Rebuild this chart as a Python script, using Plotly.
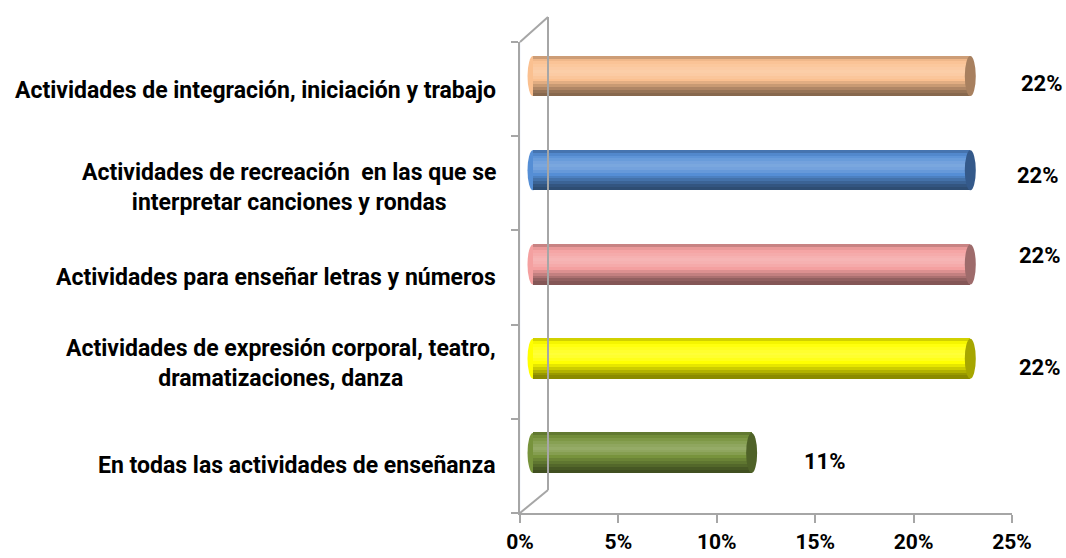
import plotly.graph_objects as go

# ---- data (top to bottom as shown) ----
categories = [
    "Actividades de integración, iniciación y trabajo",
    "Actividades de recreación  en las que se<br>interpretar canciones y rondas",
    "Actividades para enseñar letras y números",
    "Actividades de expresión corporal, teatro,<br>dramatizaciones, danza",
    "En todas las actividades de enseñanza",
]
values = [0.2222, 0.2222, 0.2222, 0.2222, 0.1111]
x_tickvals = [0, 0.05, 0.10, 0.15, 0.20, 0.25]
x_ticktext = ["0%", "5%", "10%", "15%", "20%", "25%"]

# ---- style ----
base_colors = ["#FAC090", "#558ED5", "#F4A0A0", "#FFFF00", "#77933C"]
cap_colors = ["#A8805F", "#34598A", "#9E6B6B", "#A6A600", "#4F6228"]
label_yshift = [6, 8, 22, 4, 4]
label_xshift = [85, 81, 83, 83, 86]
cat_yshift = [-1, -4, 0, 8, 0]
shade_profile = [-0.18, -0.04, 0.05, 0.12, 0.18, 0.22, 0.18, 0.10, 0.0,
                 -0.10, -0.20, -0.30, -0.40, -0.46]
FONT = "Roboto, Arial, sans-serif"
GRAY = "#A6A6A6"

W, H = 1066, 558
ML, MR, MT, MB = 520, 54, 42, 45
pw, ph = W - ML - MR, H - MT - MB
xmax = 0.25
px_per_x = pw / xmax
n = len(categories)
band_px = ph / n
depth_px = 13
off_x = depth_px / px_per_x
off_y = depth_px / band_px
bar_h = 40 / band_px

cat_order = categories[::-1]  # bottom -> top for the axis


def shade(hexc, f):
    hexc = hexc.lstrip("#")
    r, g, b = (int(hexc[i:i + 2], 16) for i in (0, 2, 4))
    if f >= 0:
        r, g, b = (c + (255 - c) * f for c in (r, g, b))
    else:
        r, g, b = (c * (1 + f) for c in (r, g, b))
    return "rgb(%d,%d,%d)" % (round(r), round(g), round(b))


fig = go.Figure()

# invisible trace to keep front axes alive
fig.add_trace(go.Bar(y=categories, x=[0] * n, orientation="h",
                     marker_color="rgba(0,0,0,0)", showlegend=False,
                     hoverinfo="skip", xaxis="x", yaxis="y"))

# cylinder body built from horizontal strips
ns = len(shade_profile)
sh = bar_h / ns
for k, f in enumerate(shade_profile):
    fig.add_trace(go.Bar(
        y=categories, x=values, orientation="h",
        width=sh * 1.15,
        offset=bar_h / 2 - (k + 1) * sh,
        marker=dict(color=[shade(c, f) for c in base_colors], line=dict(width=0)),
        showlegend=False, hoverinfo="skip",
        xaxis="x2", yaxis="y2",
    ))

shapes = []
dx = 5.5 / px_per_x
for j, (cat, v) in enumerate(zip(categories, values)):
    idx = n - 1 - j
    # rounded left end
    shapes.append(dict(type="circle", xref="x2", yref="y2", layer="below",
                       x0=-dx, x1=dx, y0=idx - bar_h / 2, y1=idx + bar_h / 2,
                       fillcolor=shade(base_colors[j], 0.0), line=dict(width=0)))
    # end cap
    shapes.append(dict(type="circle", xref="x2", yref="y2", layer="above",
                       x0=v - dx, x1=v + dx, y0=idx - bar_h / 2, y1=idx + bar_h / 2,
                       fillcolor=cap_colors[j], line=dict(width=0)))

# back wall frame
bx = 28 / pw
shapes += [
    dict(type="line", xref="paper", yref="paper", x0=bx, x1=bx,
         y0=23 / ph, y1=1 + 25 / ph, line=dict(color=GRAY, width=2)),
    dict(type="line", xref="paper", yref="paper", x0=0, x1=bx,
         y0=1, y1=1 + 25 / ph, line=dict(color=GRAY, width=2)),
    dict(type="line", xref="paper", yref="paper", x0=0, x1=bx,
         y0=0, y1=23 / ph, line=dict(color=GRAY, width=2)),
]

annotations = []
for j, cat in enumerate(categories):
    annotations.append(dict(
        xref="paper", yref="y", x=-22 / pw, y=cat, xanchor="right",
        yanchor="middle", align="center", showarrow=False, text=cat,
        yshift=cat_yshift[j],
        font=dict(family=FONT, size=23, color="black", weight="bold")))
for j, (cat, v) in enumerate(zip(categories, values)):
    annotations.append(dict(
        xref="x", yref="y", x=v, y=cat, xanchor="center", yanchor="middle",
        xshift=label_xshift[j], yshift=label_yshift[j], showarrow=False,
        text=f"{v:.0%}",
        font=dict(family=FONT, size=22, color="black", weight="bold")))

fig.update_layout(
    width=W, height=H,
    margin=dict(l=ML, r=MR, t=MT, b=MB, autoexpand=False),
    paper_bgcolor="white", plot_bgcolor="rgba(0,0,0,0)",
    barmode="overlay", bargap=0,
    showlegend=False,
    xaxis=dict(range=[0, xmax], tickvals=x_tickvals, ticktext=x_ticktext,
               showgrid=False, zeroline=False, showline=True,
               linecolor=GRAY, linewidth=2, ticks="outside", ticklen=8,
               tickwidth=2, tickcolor=GRAY, ticklabelstandoff=1,
               automargin=False,
               tickfont=dict(family=FONT, size=21, color="black", weight="bold"),
               anchor="y"),
    yaxis=dict(type="category", categoryorder="array", categoryarray=cat_order,
               range=[-0.5, n - 0.5], showgrid=False, zeroline=False,
               showline=True, linecolor=GRAY, linewidth=2, ticks="outside",
               tickson="boundaries", ticklen=7, tickwidth=2, tickcolor=GRAY,
               showticklabels=False, anchor="x", automargin=False),
    xaxis2=dict(range=[-off_x, xmax - off_x], overlaying="x", anchor="y2",
                visible=False, automargin=False),
    yaxis2=dict(type="category", categoryorder="array", categoryarray=cat_order,
                range=[-0.5 - off_y, n - 0.5 - off_y], overlaying="y",
                anchor="x2", visible=False, automargin=False),
    shapes=shapes,
    annotations=annotations,
)

fig.write_html("out.html", config={"displayModeBar": False},
               post_script="document.body.style.margin='0';document.body.style.overflow='hidden';")
